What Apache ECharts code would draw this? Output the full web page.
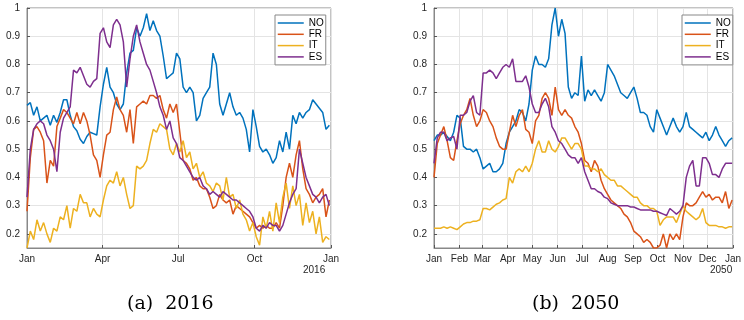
<!DOCTYPE html>
<html>
<head>
<meta charset="utf-8">
<script src="https://cdn.jsdelivr.net/npm/echarts@6/dist/echarts.min.js"></script>
<style>html,body{margin:0;padding:0;background:#fff}#c{width:744px;height:320px}</style>
</head>
<body>
<div id="c"></div>
<script>
// ---- data (sampled every 4 days from 1 Jan) ----
const seriesNames = ['NO', 'FR', 'IT', 'ES'];
const stepDays = 4;
const monthNames = ['Jan','Feb','Mar','Apr','May','Jun','Jul','Aug','Sep','Oct','Nov','Dec'];
const yTicks = [0.2, 0.3, 0.4, 0.5, 0.6, 0.7, 0.8, 0.9, 1];
const captions = ['(a)  2016', '(b)  2050'];
const years = [2016, 2050];

const no2016 = [0.655,0.665,0.62,0.65,0.60,0.61,0.62,0.585,0.62,0.595,
 0.63,0.675,0.675,0.62,0.58,0.565,0.535,0.52,0.545,0.56,
 0.555,0.55,0.65,0.73,0.79,0.72,0.70,0.66,0.64,0.66,
 0.77,0.84,0.85,0.93,0.90,0.93,0.98,0.92,0.955,0.92,
 0.90,0.83,0.75,0.76,0.77,0.84,0.82,0.72,0.70,0.72,
 0.70,0.60,0.62,0.68,0.70,0.72,0.84,0.80,0.66,0.62,
 0.66,0.70,0.65,0.62,0.63,0.61,0.57,0.49,0.64,0.58,
 0.51,0.49,0.50,0.48,0.45,0.47,0.53,0.49,0.56,0.50,
 0.62,0.59,0.63,0.61,0.63,0.64,0.675,0.66,0.645,0.63,
 0.57,0.585];
const fr2016 = [0.28,0.47,0.57,0.58,0.56,0.53,0.38,0.46,0.44,0.58,
 0.61,0.64,0.63,0.61,0.59,0.63,0.59,0.63,0.60,0.55,
 0.48,0.46,0.40,0.48,0.55,0.56,0.64,0.685,0.64,0.62,
 0.56,0.64,0.52,0.65,0.66,0.67,0.66,0.69,0.69,0.68,
 0.69,0.64,0.61,0.66,0.63,0.66,0.56,0.46,0.45,0.43,
 0.39,0.40,0.37,0.36,0.36,0.33,0.29,0.30,0.34,0.32,
 0.31,0.32,0.27,0.30,0.29,0.28,0.27,0.26,0.24,0.22,
 0.23,0.22,0.23,0.22,0.22,0.24,0.22,0.30,0.40,0.45,
 0.40,0.48,0.53,0.43,0.36,0.34,0.31,0.33,0.34,0.36,
 0.26,0.32];
const it2016 = [0.15,0.21,0.18,0.25,0.21,0.24,0.20,0.17,0.22,0.21,
 0.26,0.25,0.30,0.22,0.29,0.28,0.34,0.31,0.31,0.26,
 0.29,0.27,0.26,0.32,0.37,0.39,0.38,0.42,0.37,0.40,
 0.34,0.29,0.30,0.44,0.43,0.44,0.46,0.52,0.57,0.56,
 0.59,0.58,0.57,0.50,0.48,0.52,0.49,0.53,0.47,0.49,
 0.43,0.45,0.40,0.42,0.38,0.37,0.35,0.38,0.37,0.32,
 0.40,0.33,0.34,0.29,0.32,0.27,0.25,0.21,0.24,0.19,
 0.16,0.26,0.22,0.28,0.21,0.31,0.24,0.33,0.38,0.29,
 0.37,0.30,0.34,0.23,0.31,0.24,0.28,0.20,0.26,0.17,
 0.19,0.18];
const es2016 = [0.33,0.50,0.57,0.59,0.60,0.59,0.55,0.53,0.50,0.42,
 0.56,0.61,0.63,0.65,0.78,0.77,0.79,0.76,0.73,0.72,
 0.74,0.75,0.91,0.93,0.88,0.86,0.94,0.96,0.94,0.88,
 0.72,0.82,0.90,0.94,0.88,0.84,0.80,0.78,0.74,0.70,
 0.65,0.62,0.57,0.60,0.54,0.52,0.47,0.46,0.44,0.42,
 0.40,0.39,0.40,0.37,0.36,0.34,0.35,0.34,0.33,0.35,
 0.34,0.33,0.32,0.32,0.31,0.30,0.29,0.28,0.26,0.22,
 0.21,0.23,0.22,0.24,0.23,0.23,0.21,0.23,0.27,0.31,
 0.34,0.36,0.50,0.45,0.40,0.37,0.34,0.33,0.31,0.33,
 0.34,0.30];

const no2050 = [0.53,0.55,0.55,0.56,0.545,0.53,0.56,0.62,0.61,0.51,
 0.50,0.50,0.49,0.50,0.47,0.43,0.44,0.45,0.42,0.42,
 0.43,0.45,0.52,0.56,0.58,0.60,0.64,0.63,0.60,0.66,
 0.78,0.83,0.80,0.80,0.79,0.82,0.94,1.0,0.90,0.96,
 0.91,0.72,0.68,0.70,0.69,0.83,0.67,0.71,0.69,0.71,
 0.69,0.67,0.70,0.80,0.78,0.76,0.73,0.70,0.69,0.68,
 0.70,0.72,0.68,0.63,0.63,0.62,0.58,0.56,0.64,0.61,
 0.58,0.55,0.58,0.61,0.58,0.56,0.58,0.63,0.58,0.57,
 0.56,0.55,0.54,0.56,0.53,0.55,0.58,0.55,0.53,0.51,
 0.53,0.54];
const fr2050 = [0.40,0.52,0.55,0.58,0.53,0.47,0.46,0.53,0.59,0.62,
 0.64,0.68,0.62,0.58,0.60,0.64,0.63,0.60,0.58,0.54,
 0.51,0.50,0.50,0.56,0.62,0.58,0.62,0.64,0.57,0.56,
 0.52,0.60,0.62,0.68,0.70,0.68,0.62,0.72,0.64,0.62,
 0.64,0.62,0.61,0.58,0.56,0.52,0.46,0.45,0.42,0.46,
 0.44,0.39,0.36,0.34,0.32,0.31,0.30,0.29,0.27,0.26,
 0.24,0.21,0.20,0.19,0.17,0.18,0.17,0.15,0.15,0.16,
 0.20,0.15,0.20,0.18,0.20,0.18,0.26,0.31,0.30,0.30,
 0.31,0.33,0.35,0.33,0.34,0.32,0.33,0.33,0.31,0.35,
 0.29,0.32];
const it2050 = [0.22,0.22,0.22,0.225,0.22,0.225,0.22,0.215,0.225,0.235,
 0.24,0.24,0.245,0.245,0.25,0.29,0.29,0.285,0.295,0.305,
 0.31,0.32,0.325,0.40,0.38,0.42,0.43,0.42,0.44,0.42,
 0.45,0.50,0.53,0.49,0.49,0.53,0.50,0.49,0.51,0.54,
 0.54,0.52,0.50,0.52,0.52,0.50,0.44,0.44,0.43,0.43,
 0.42,0.43,0.41,0.40,0.39,0.39,0.37,0.37,0.36,0.35,
 0.34,0.33,0.33,0.31,0.30,0.30,0.29,0.29,0.28,0.23,
 0.25,0.26,0.26,0.26,0.24,0.27,0.30,0.28,0.27,0.26,
 0.25,0.26,0.29,0.24,0.23,0.23,0.23,0.225,0.225,0.22,
 0.225,0.225];
const es2050 = [0.45,0.54,0.56,0.56,0.53,0.54,0.545,0.50,0.62,0.62,
 0.63,0.67,0.69,0.63,0.62,0.77,0.77,0.78,0.77,0.75,
 0.77,0.79,0.80,0.79,0.82,0.74,0.74,0.74,0.76,0.72,
 0.66,0.63,0.63,0.66,0.68,0.65,0.58,0.56,0.53,0.52,
 0.50,0.48,0.47,0.47,0.45,0.47,0.42,0.39,0.36,0.36,
 0.35,0.345,0.33,0.325,0.31,0.305,0.30,0.30,0.30,0.30,
 0.295,0.295,0.29,0.285,0.285,0.285,0.285,0.28,0.28,0.275,
 0.27,0.265,0.29,0.28,0.27,0.28,0.30,0.40,0.44,0.46,
 0.37,0.37,0.47,0.47,0.45,0.41,0.41,0.40,0.43,0.45,
 0.45,0.45];

const colors = ['#0072BD', '#D95319', '#EDB120', '#7E2F8E'];
const dataSets = [[no2016, fr2016, it2016, es2016], [no2050, fr2050, it2050, es2050]];
const tickMonths = [[0, 3, 6, 9, 12], [0,1,2,3,4,5,6,7,8,9,10,11,12]];

// ---- build (x = days since 1 Jan of the year) ----
const DAY = 86400000;
const FONT = 'Liberation Sans, Arial, sans-serif';
const AX = '#262626';
function dayOf(year, m) { return Math.round((Date.UTC(year, m, 1) - Date.UTC(year, 0, 1)) / DAY); }
function toPoints(arr) { return arr.map((v, k) => [k * stepDays, v]); }
const gridLine = { show: true, lineStyle: { color: '#e4e4e4', width: 1 } };
const xAxes = years.map((y, i) => {
  const ticks = tickMonths[i].map(m => dayOf(y, m));
  const nameOf = {};
  tickMonths[i].forEach((m, j) => { nameOf[ticks[j]] = monthNames[m % 12]; });
  return {
    type: 'value', gridIndex: i, min: 0, max: dayOf(y, 12),
    axisLine: { show: true, lineStyle: { color: '#888', width: 1 } },
    axisTick: { show: true, inside: true, length: 3, customValues: ticks, lineStyle: { color: '#555' } },
    axisLabel: { customValues: ticks, color: AX, fontSize: 10, fontFamily: FONT, margin: 6,
      formatter: v => nameOf[Math.round(v)] || '' },
    splitLine: gridLine
  };
});
const yAxes = years.map((y, i) => ({
  type: 'value', gridIndex: i, min: 0.15, max: 1,
  axisLine: { show: true, lineStyle: { color: '#888', width: 1 } },
  axisTick: { show: true, inside: true, length: 3, customValues: yTicks, lineStyle: { color: '#555' } },
  axisLabel: { customValues: yTicks, color: AX, fontSize: 10, fontFamily: FONT, margin: 7,
    formatter: v => (Math.abs(v - 1) < 1e-9 ? '1' : v.toFixed(1)) },
  splitLine: gridLine
}));
const series = [];
years.forEach((y, i) => {
  seriesNames.forEach((n, j) => {
    series.push({
      type: 'line', name: n, xAxisIndex: i, yAxisIndex: i,
      data: toPoints(dataSets[i][j]),
      symbol: 'none', showSymbol: false,
      lineStyle: { color: colors[j], width: 1.5 }, itemStyle: { color: colors[j] },
      z: 2 + j
    });
  });
});
const legendBase = {
  orient: 'vertical', top: 15, data: seriesNames,
  itemWidth: 26, itemHeight: 10, itemGap: 1.3, padding: [3, 2, 3, 2],
  borderColor: '#888', borderWidth: 1, backgroundColor: '#fff',
  itemStyle: { opacity: 0 },
  lineStyle: { width: 1.5 },
  textStyle: { fontSize: 10, color: '#000', fontFamily: FONT }
};
const option = {
  animation: false, backgroundColor: '#fff',
  grid: [
    { left: 27, top: 8, width: 304, height: 240, show: true, borderColor: '#888', borderWidth: 1 },
    { left: 434, top: 8, width: 305, height: 240, show: true, borderColor: '#888', borderWidth: 1 }
  ],
  xAxis: xAxes, yAxis: yAxes,
  legend: [Object.assign({ left: 275 }, legendBase), Object.assign({ left: 682 }, legendBase)],
  series: series,
  graphic: [
    { type: 'text', left: 303, top: 265, style: { text: String(years[0]), fill: AX, font: '10px ' + FONT } },
    { type: 'text', left: 710, top: 265, style: { text: String(years[1]), fill: AX, font: '10px ' + FONT } },
    { type: 'text', left: 127, top: 295, style: { text: captions[0], fill: '#000', font: '19px DejaVu Serif, serif' } },
    { type: 'text', left: 532, top: 295, style: { text: captions[1], fill: '#000', font: '19px DejaVu Serif, serif' } }
  ]
};
const chart = echarts.init(document.getElementById('c'), null, { renderer: 'canvas' });
chart.setOption(option);
</script>
</body>
</html>
